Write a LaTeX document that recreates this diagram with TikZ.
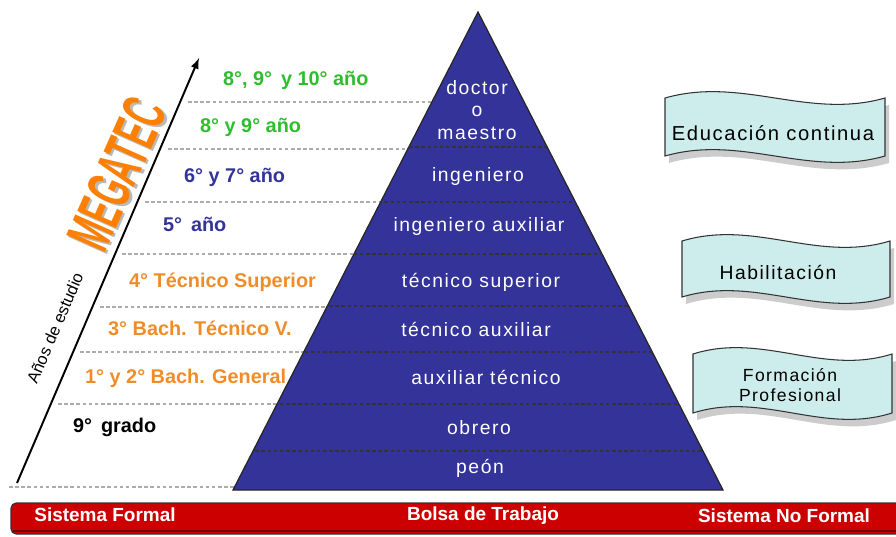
\documentclass[tikz,border=0pt]{standalone}
\usepackage{fontspec}
\setmainfont{Liberation Sans}
\newfontfamily\espaciada[LetterSpace=8]{Liberation Sans}
\usepackage{tikz}
\usepackage{xcolor}

\definecolor{azulpir}{RGB}{51,51,153}
\definecolor{verdetxt}{RGB}{45,190,45}
\definecolor{naranjatxt}{RGB}{240,140,40}
\definecolor{naranjamega}{RGB}{255,128,0}
\definecolor{celeste}{RGB}{205,236,236}
\definecolor{rojobarra}{RGB}{204,0,0}

\tikzset{
	anio/.style={anchor=west, font=\fontsize{11.3}{13}\selectfont\bfseries},
	nivel/.style={text=white, font=\fontsize{11}{13}\selectfont\espaciada},
	guia/.style={gray!65, dash pattern=on 2pt off 1.5pt, line width=0.6pt},
	guiapir/.style={black!80, dash pattern=on 2pt off 1.5pt, line width=0.6pt},
	onda/.style={fill=celeste, draw=black!80, line width=0.6pt},
	textonda/.style={font=\fontsize{11}{13}\selectfont\espaciada},
	mega/.style={rotate=66, font=\fontsize{35}{35}\selectfont\bfseries},
	barra/.style={text=white, font=\fontsize{10.8}{12}\selectfont\bfseries}
}

\newcommand{\bandera}[4]{%
	\fill[gray!40] ({#1+4},{#2+7}) .. controls ({#1+4+0.35*(#3-#1)},{#2-15}) and ({#1+4+0.65*(#3-#1)},{#2+29}) .. ({#3+4},{#2+7}) -- ({#3+4},{#4+7}) .. controls ({#1+4+0.65*(#3-#1)},{#4+29}) and ({#1+4+0.35*(#3-#1)},{#4-15}) .. ({#1+4},{#4+7}) -- cycle;
	\filldraw[onda] (#1,#2) .. controls ({#1+0.35*(#3-#1)},{#2-22}) and ({#1+0.65*(#3-#1)},{#2+22}) .. (#3,#2) -- (#3,#4) .. controls ({#1+0.65*(#3-#1)},{#4+22}) and ({#1+0.35*(#3-#1)},{#4-22}) .. (#1,#4) -- cycle;}

\begin{document}
\begin{tikzpicture}[x=0.02cm, y=-0.02cm]
			\useasboundingbox (0,0) rectangle (896,537);
			\foreach \xi/\yi in {188/102, 168/149, 145/202, 122/254, 100/307, 80/352, 58/404, 9/487}
				\draw[guia] (\xi,\yi) -- (480,\yi);
			\coordinate (cima) at (478,12);
			\coordinate (baseizq) at (233,490);
			\coordinate (baseder) at (723,490);
			\filldraw[fill=azulpir, draw=black!85, line width=0.7pt] (cima) -- (baseder) -- (baseizq) -- cycle;
			\begin{scope}
				\clip (cima) -- (baseder) -- (baseizq) -- cycle;
				\foreach \yi in {147,202,254,306,352,404,451}
					\draw[guiapir] (200,\yi) -- (760,\yi);
			\end{scope}
			\node[nivel, align=center] (doctor) at (477,110) {doctor\\o\\maestro};
			\node[nivel] (ingeniero) at (478,177) {ingeniero};
			\node[nivel] (ingaux) at (479,227) {ingeniero auxiliar};
			\node[nivel] (tecsup) at (481,282) {técnico superior};
			\node[nivel] (tecaux) at (476,329) {técnico auxiliar};
			\node[nivel] (auxtec) at (486,377) {auxiliar técnico};
			\node[nivel] (obrero) at (479,428) {obrero};
			\node[nivel] (peon) at (480,468) {peón};
			\node[anio, text=verdetxt] (a10) at (217,80) {8°, 9°\, y 10° año};
			\node[anio, text=verdetxt] (a9) at (194,127) {8° y 9° año};
			\node[anio, text=azulpir] (a7) at (178,177) {6° y 7° año};
			\node[anio, text=azulpir] (a5) at (157,224) {5°\, año};
			\node[anio, text=naranjatxt] (a4) at (123,282) {4° Técnico Superior};
			\node[anio, text=naranjatxt] (a3) at (102,328) {3° Bach. Técnico V.};
			\node[anio, text=naranjatxt] (a2) at (79,378) {1° y 2° Bach. General};
			\node[anio, text=black] (a1) at (67,427) {9°\, grado};
			\coordinate (ejeini) at (17,483);
			\coordinate (ejefin) at (199,58);
			\draw[->, >=latex, line width=1.1pt] (ejeini) -- (ejefin);
			\node[rotate=66.7, font=\fontsize{9.4}{11}\selectfont] (anios) at (55,328) {Años de estudio};
			\node[mega, text=gray!55] (sombramega) at (119.5,176) {\scalebox{0.52}[1]{MEGATEC}};
			\node[mega, text=naranjamega] (megatec) at (117,174) {\scalebox{0.52}[1]{MEGATEC}};
			\bandera{665}{98}{885}{156}
			\bandera{682}{241}{890}{297}
			\bandera{693}{354}{892}{413}
			\node[textonda, font=\fontsize{11.5}{13}\selectfont\espaciada] (educacion) at (773,133) {Educación continua};
			\node[textonda] (habilitacion) at (778,272) {Habilitación};
			\node[textonda, font=\fontsize{10}{11.3}\selectfont\espaciada, align=center] (formacion) at (790,385) {Formación\\Profesional};
			\filldraw[fill=rojobarra, draw=black!80, line width=0.7pt, rounded corners=3pt] (11,503) rectangle (902,534);
			\draw[red!45!black, line width=1.6pt] (13,531) -- (900,531);
			\node[barra] (formal) at (105,515) {Sistema Formal};
			\node[barra] (bolsa) at (483,516) {Bolsa de Trabajo};
			\node[barra] (noformal) at (784,516) {Sistema No Formal};
		\end{tikzpicture}
\end{document}
